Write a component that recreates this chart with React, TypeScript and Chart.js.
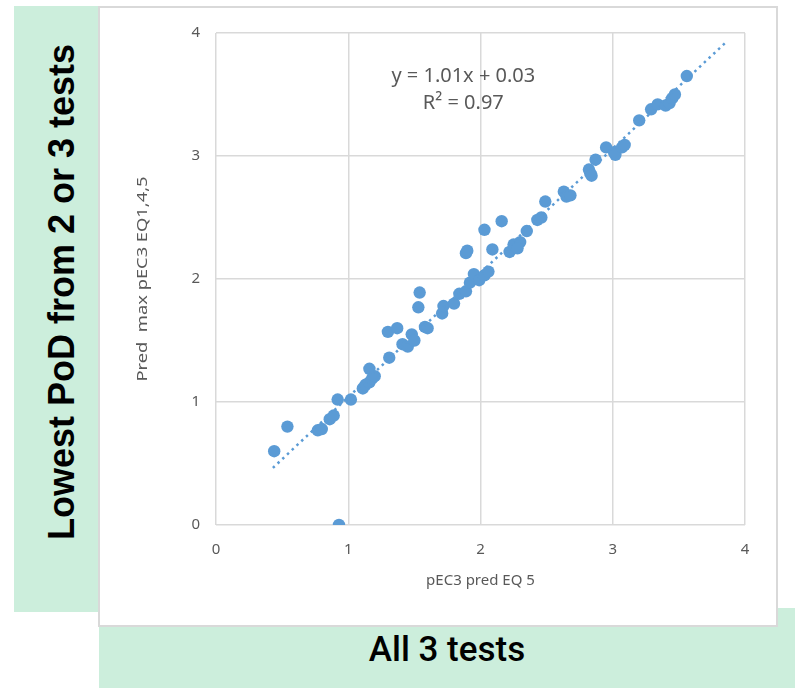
import React, { useEffect, useRef } from "react";
import { Chart, registerables } from "chart.js";

Chart.register(...registerables);

// Measured points: x = pEC3 pred EQ 5, y = Pred max pEC3 EQ1,4,5
const xValues = [
  0.44, 0.54, 0.77, 0.80, 0.86, 0.89, 0.92, 0.93, 1.02, 1.11,
  1.13, 1.16, 1.16, 1.18, 1.20, 1.31, 1.30, 1.37, 1.41, 1.45,
  1.48, 1.50, 1.53, 1.54, 1.58, 1.60, 1.71, 1.72, 1.80, 1.84,
  1.89, 1.89, 1.90, 1.92, 1.95, 1.99, 2.03, 2.03, 2.06, 2.09,
  2.16, 2.22, 2.25, 2.30, 2.28, 2.35, 2.43, 2.46, 2.49, 2.63,
  2.65, 2.68, 2.82, 2.83, 2.84, 2.87, 2.95, 3.01, 3.02, 3.07,
  3.09, 3.20, 3.29, 3.34, 3.40, 3.43, 3.45, 3.47, 3.56
];
const yValues = [
  0.60, 0.80, 0.77, 0.78, 0.86, 0.89, 1.02, 0.00, 1.02, 1.11,
  1.14, 1.16, 1.27, 1.19, 1.21, 1.36, 1.57, 1.60, 1.47, 1.45,
  1.55, 1.50, 1.77, 1.89, 1.61, 1.60, 1.72, 1.78, 1.80, 1.88,
  1.90, 2.21, 2.23, 1.97, 2.04, 1.99, 2.03, 2.40, 2.06, 2.24,
  2.47, 2.22, 2.28, 2.30, 2.25, 2.39, 2.48, 2.50, 2.63, 2.71,
  2.67, 2.68, 2.89, 2.86, 2.84, 2.97, 3.07, 3.03, 3.01, 3.07,
  3.09, 3.29, 3.38, 3.42, 3.41, 3.43, 3.47, 3.50, 3.65
];

// Trendline endpoints (y = 1.01x + 0.03)
const trendX = [0.43, 3.85];
const trendY = [0.464, 3.919];

const axisTicks = [0, 1, 2, 3, 4];
const equationLines = ["y = 1.01x + 0.03", "R² = 0.97"];
const xTitle = "pEC3 pred EQ 5";
const yTitle = "Pred  max pEC3 EQ1,4,5";
const leftLabel = "Lowest PoD from 2 or 3 tests";
const bottomLabel = "All 3 tests";

const BLUE = "#5B9BD5";
const GRID = "#d9d9d9";
const TEXT = "#595959";
const GREEN = "#CCEEDC";
const FONT = "'Noto Sans', 'Open Sans', sans-serif";

export default function App() {
  const canvasRef = useRef<HTMLCanvasElement | null>(null);

  useEffect(() => {
    if (!canvasRef.current) return;
    const points = xValues.map((x, i) => ({ x, y: yValues[i] }));
    const trend = trendX.map((x, i) => ({ x, y: trendY[i] }));

    const textPlugin = {
      id: "extraText",
      afterDatasetsDraw(chart: any) {
        const { ctx, scales, chartArea } = chart;
        ctx.save();
        ctx.fillStyle = TEXT;
        ctx.textAlign = "center";
        ctx.textBaseline = "middle";
        // regression equation
        ctx.font = `20px ${FONT}`;
        const cx = scales.x.getPixelForValue(1.87);
        ctx.fillText(equationLines[0], cx, scales.y.getPixelForValue(3.65));
        ctx.fillText(equationLines[1], cx, scales.y.getPixelForValue(3.43));
        // y axis title (slightly stretched along its direction)
        ctx.font = `15px ${FONT}`;
        ctx.translate(43, (chartArea.top + chartArea.bottom) / 2);
        ctx.rotate(-Math.PI / 2);
        ctx.scale(1.22, 1);
        ctx.fillText(yTitle, 0, 0);
        ctx.restore();
      },
    };

    const chart = new Chart(canvasRef.current, {
      type: "scatter",
      data: {
        datasets: [
          {
            type: "line",
            data: trend,
            borderColor: BLUE,
            borderWidth: 2.5,
            borderDash: [2.5, 4],
            pointRadius: 0,
            fill: false,
          } as any,
          {
            data: points,
            backgroundColor: BLUE,
            borderColor: BLUE,
            pointRadius: 6.2,
            pointHoverRadius: 6.2,
            borderWidth: 0,
          },
        ],
      },
      options: {
        responsive: false,
        animation: false,
        events: [],
        layout: { padding: { left: 0, right: 31, top: 24, bottom: 0 } },
        plugins: { legend: { display: false }, tooltip: { enabled: false } },
        scales: {
          x: {
            type: "linear",
            min: 0,
            max: 4,
            afterBuildTicks: (s: any) => {
              s.ticks = axisTicks.map((v) => ({ value: v }));
            },
            afterFit: (s: any) => {
              s.height = 100;
            },
            grid: { color: GRID, lineWidth: 1.5, drawTicks: false },
            border: { display: false },
            ticks: { color: TEXT, font: { family: FONT, size: 15 }, padding: 16 },
            title: {
              display: true,
              text: xTitle,
              color: TEXT,
              font: { family: FONT, size: 15 },
              padding: { top: 4, bottom: 35 },
            },
          },
          y: {
            type: "linear",
            min: 0,
            max: 4,
            afterBuildTicks: (s: any) => {
              s.ticks = axisTicks.map((v) => ({ value: v }));
            },
            afterFit: (s: any) => {
              s.width = 116;
            },
            grid: { color: GRID, lineWidth: 1.5, drawTicks: false },
            border: { display: false },
            ticks: { color: TEXT, font: { family: FONT, size: 15 }, padding: 16 },
            title: { display: false },
          },
        },
      },
      plugins: [textPlugin],
    });
    return () => chart.destroy();
  }, []);

  return (
    <div style={{ position: "absolute", left: 0, top: 0, width: 797, height: 688, background: "#fff", overflow: "hidden" }}>
      <div style={{ position: "absolute", left: 14, top: 6, width: 85, height: 606, background: GREEN }} />
      <div style={{ position: "absolute", left: 99, top: 608, width: 696, height: 80, background: GREEN }} />
      <div
        style={{
          position: "absolute",
          left: 98,
          top: 6,
          width: 676,
          height: 617,
          background: "#fff",
          border: `2px solid ${GRID}`,
        }}
      >
        <canvas ref={canvasRef} width={676} height={617} style={{ display: "block" }} />
      </div>
      <div
        style={{
          position: "absolute",
          left: 62,
          top: 292,
          transform: "translate(-50%, -50%) rotate(-90deg)",
          whiteSpace: "nowrap",
          fontFamily: "'Liberation Sans', Arial, sans-serif",
          fontWeight: "bold",
          fontSize: 36,
          lineHeight: "40px",
          color: "#000",
        }}
      >
        {leftLabel}
      </div>
      <div
        style={{
          position: "absolute",
          left: 447,
          top: 650,
          transform: "translate(-50%, -50%)",
          whiteSpace: "nowrap",
          fontFamily: "Roboto, 'Liberation Sans', sans-serif",
          fontWeight: 500,
          fontSize: 35,
          lineHeight: "40px",
          color: "#000",
        }}
      >
        {bottomLabel}
      </div>
    </div>
  );
}
